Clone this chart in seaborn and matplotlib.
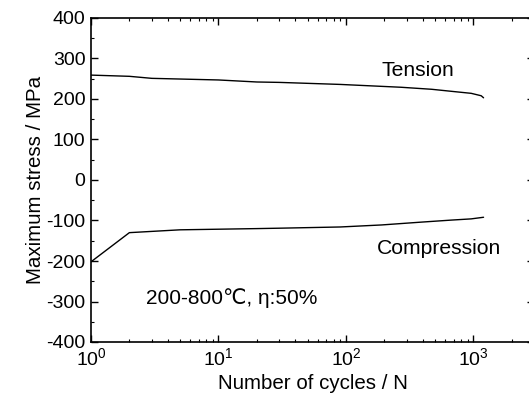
import numpy as np
import pandas as pd
import seaborn as sns
import matplotlib
matplotlib.use("Agg")
import matplotlib.pyplot as plt
from matplotlib.ticker import LogLocator, MultipleLocator, NullFormatter

sns.set_style("ticks")
plt.rcParams['font.family'] = ['Liberation Sans', 'DejaVu Sans']
plt.rcParams['mathtext.fontset'] = 'custom'
plt.rcParams['mathtext.rm'] = 'Liberation Sans'
plt.rcParams['axes.unicode_minus'] = False
plt.rcParams['text.color'] = 'black'
plt.rcParams['axes.labelcolor'] = 'black'
plt.rcParams['xtick.color'] = 'black'
plt.rcParams['ytick.color'] = 'black'

tension_N = [1, 2, 3, 10, 20, 30, 90, 270, 470, 670, 960, 1150, 1200]
tension_S = [259, 256, 251, 247, 242, 241, 236, 229, 224, 219, 214, 208, 203]
comp_N = [1, 2, 5, 20, 30, 90, 190, 390, 670, 960, 1200]
comp_S = [-202, -130, -123, -120, -119, -116, -111, -104, -99, -96, -92]

df = pd.concat([
    pd.DataFrame({"N": tension_N, "S": tension_S, "mode": "Tension"}),
    pd.DataFrame({"N": comp_N, "S": comp_S, "mode": "Compression"}),
])

fig = plt.figure(figsize=(5.29, 4.04), dpi=100)
ax = fig.add_axes([91/529, 1-342/404, (529-91)/529 + 0.01, (342-18)/404])
sns.lineplot(data=df, x="N", y="S", units="mode", estimator=None, color="black",
             linewidth=1.0, ax=ax, legend=False, sort=False)
ax.set_xscale("log")
ax.set_xlim(1, 3000)
ax.set_ylim(-400, 400)
ax.yaxis.set_major_locator(MultipleLocator(100))
ax.yaxis.set_minor_locator(MultipleLocator(50))
ax.xaxis.set_major_locator(LogLocator(base=10, numticks=10))
ax.xaxis.set_minor_locator(LogLocator(base=10, subs=np.arange(2, 10), numticks=20))
ax.xaxis.set_minor_formatter(NullFormatter())
ax.tick_params(which="both", direction="in", top=True, right=True, colors="black")
ax.tick_params(which="major", length=5, width=1, labelsize=14, pad=4)
ax.tick_params(which="minor", length=2.5, width=0.8)
for s in ax.spines.values():
    s.set_linewidth(1.2)
    s.set_color("black")
ax.set_xlabel("Number of cycles / N", fontsize=14.8, labelpad=3)
ax.set_ylabel("Maximum stress / MPa", fontsize=14.8, labelpad=1)


def place(txt, px, py, size=15.2):
    fig.text(px/529, 1-py/404, txt, fontsize=size, ha="center", va="center")


place("Tension", 418, 70)
place("Compression", 439, 248)
place("200-800℃, η:50%", 232, 298, size=15)
fig.savefig("out.png", dpi=100)
